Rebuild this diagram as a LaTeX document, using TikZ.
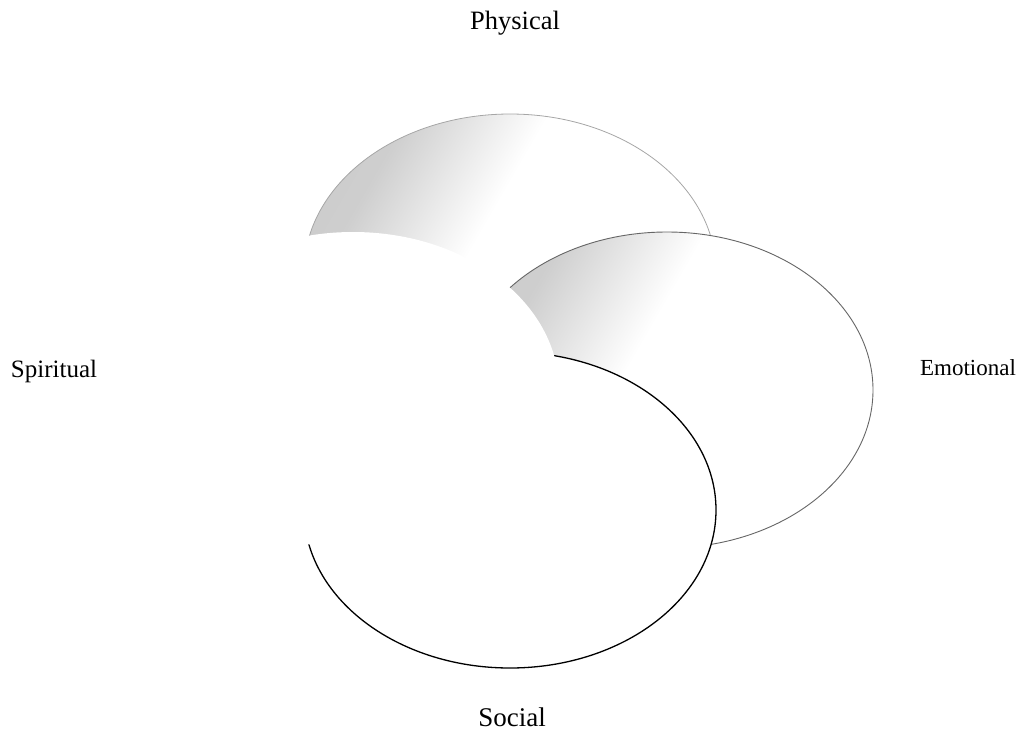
\documentclass[tikz,border=0pt]{standalone}
\usepackage{fontspec}
\setmainfont{Liberation Serif}
\usetikzlibrary{shapes.geometric}
\pgfdeclareverticalshading{mistfade}{100bp}{color(0bp)=(white); color(56bp)=(white); color(72bp)=(black!19); color(100bp)=(black!24)}

\begin{document}
\begin{tikzpicture}[x=1pt, y=-1pt,
      ring/.style={ellipse, inner sep=0pt, minimum width=412pt, minimum height=316pt},
      mist/.style={shade, shading=mistfade, shading angle=60},
      lbl/.style={anchor=base, inner sep=0pt, font=\fontsize{#1}{#1}\selectfont}]
    \useasboundingbox (0,0) rectangle (1023,734);
    % the four rings, back to front
    \node[ring, mist, draw=black!35, line width=0.8pt] (physring) at (510,272) {};
    \node[ring, mist, draw=black!60, line width=0.9pt] (emoring) at (667,390) {};
    \node[ring, fill=white, draw=black, line width=1.3pt] (socring) at (510,510) {};
    \node[ring, fill=white] (spirring) at (353,390) {};
    % labels
    \node[lbl=26.5] (phys) at (515,29) {Physical};
    \node[lbl=25] (spir) at (54,377) {Spiritual};
    \node[lbl=23] (emo) at (968,375) {Emotional};
    \node[lbl=27] (soc) at (512,726) {Social};
  \end{tikzpicture}
\end{document}
